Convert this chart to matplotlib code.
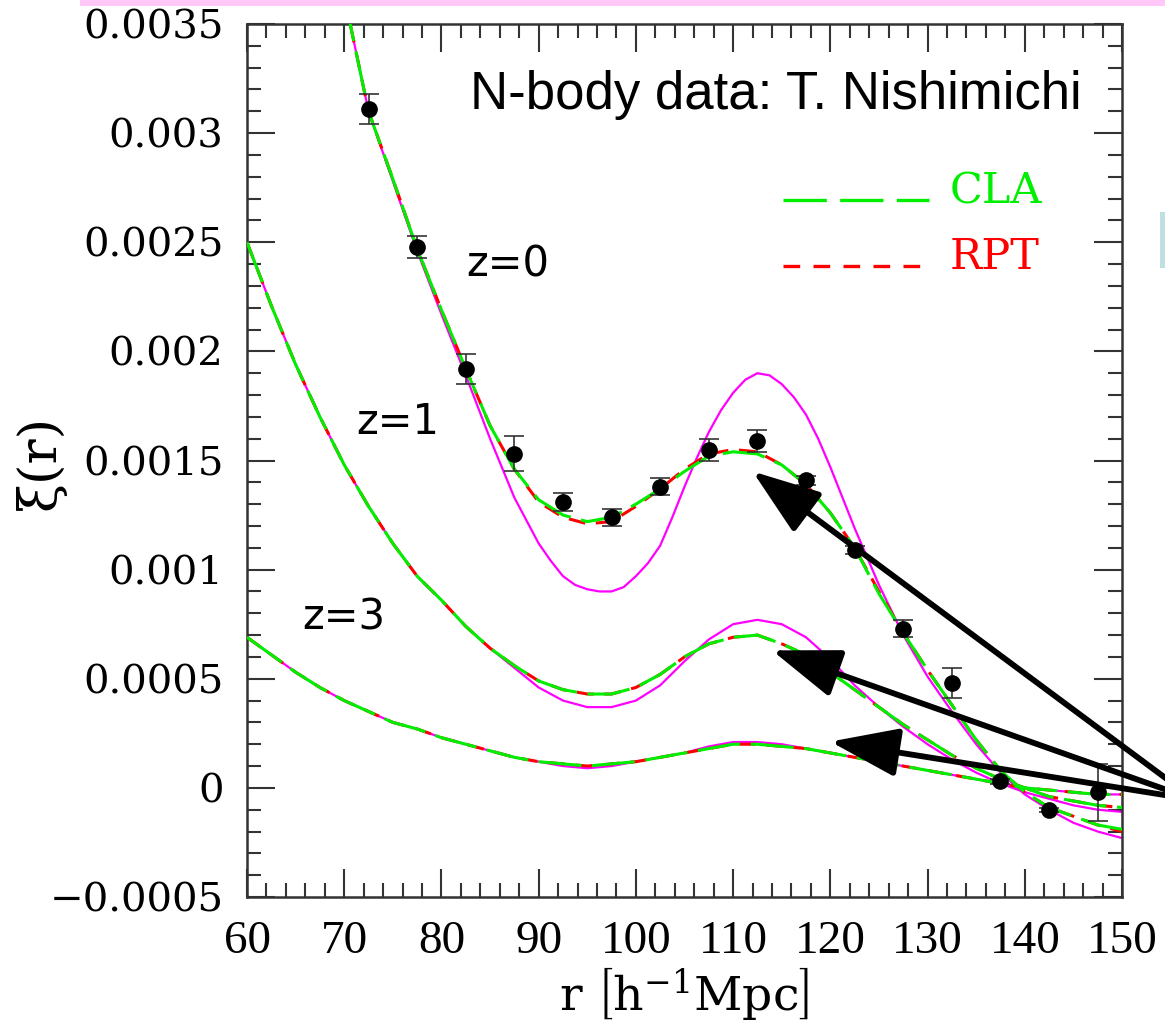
import numpy as np
import matplotlib.pyplot as plt
from matplotlib.lines import Line2D
from matplotlib.patches import Rectangle
from matplotlib.ticker import MultipleLocator, FuncFormatter

# separation r [h^-1 Mpc]
r_z0 = np.arange(70, 150.1, 2.5)
r_all = np.arange(60, 150.1, 2.5)
r_lin_z0 = np.concatenate([np.arange(70, 90, 2.5), np.arange(90, 122.6, 1.25),
                           np.arange(125, 150.1, 2.5)])

# z=0 curves (start above the plot top)
cla_z0 = [0.00363, 0.00310, 0.00279, 0.00247, 0.00219, 0.00192, 0.00166, 0.00146,
          0.00132, 0.00125, 0.00122, 0.00124, 0.00130, 0.00137, 0.00145, 0.00152,
          0.00154, 0.00153, 0.00148, 0.00139, 0.00126, 0.00110, 0.00089, 0.00071,
          0.00054, 0.00038, 0.00022, 0.00008, -0.00002, -0.00009, -0.00013, -0.00017,
          -0.00019]
rpt_z0 = [0.00363, 0.00310, 0.00279, 0.00247, 0.00219, 0.00192, 0.00166, 0.00146,
          0.00131, 0.00124, 0.00121, 0.00122, 0.00129, 0.00137, 0.00146, 0.00153,
          0.00155, 0.00154, 0.00148, 0.00139, 0.00126, 0.00110, 0.00090, 0.00071,
          0.00054, 0.00038, 0.00022, 0.00008, -0.00002, -0.00009, -0.00013, -0.00017,
          -0.00020]
lin_z0 = [0.00363, 0.00310, 0.00278, 0.00246, 0.00217, 0.00189, 0.00160, 0.00133,
          0.00112, 0.00104, 0.00097, 0.00093, 0.00091, 0.00090, 0.00090, 0.00092,
          0.00097, 0.00103, 0.00111, 0.00124, 0.00138, 0.00151, 0.00163, 0.00173,
          0.00181, 0.00187, 0.00190, 0.00189, 0.00185, 0.00179, 0.00171, 0.00160,
          0.00147, 0.00133, 0.00119,
          0.00093, 0.00070, 0.00051, 0.00035, 0.00020, 0.00007, -0.00003, -0.00010,
          -0.00016, -0.00020, -0.00023]

# z=1 curves
cla_z1 = [0.00250, 0.00221, 0.00194, 0.00170, 0.00148, 0.00129, 0.00112, 0.00097,
          0.00086, 0.00074, 0.00064, 0.00056, 0.00049, 0.00045, 0.00043, 0.00043,
          0.00046, 0.00052, 0.00060, 0.00066, 0.00069, 0.00070, 0.00066, 0.00061,
          0.00053, 0.00045, 0.00037, 0.00029, 0.00022, 0.00015, 0.00009, 0.00004,
          0.00000, -0.00004, -0.00006, -0.00008, -0.00009]
rpt_z1 = cla_z1
lin_z1 = [0.00250, 0.00221, 0.00194, 0.00170, 0.00148, 0.00129, 0.00112, 0.00097,
          0.00086, 0.00074, 0.00064, 0.00055, 0.00046, 0.00040, 0.00037, 0.00037,
          0.00040, 0.00047, 0.00058, 0.00068, 0.00075, 0.00077, 0.00075, 0.00069,
          0.00059, 0.00047, 0.00037, 0.00028, 0.00020, 0.00013, 0.00007, 0.00002,
          -0.00002, -0.00005, -0.00008, -0.00010, -0.00011]

# z=3 curves
cla_z3 = [0.00069, 0.00061, 0.00053, 0.00046, 0.00040, 0.00035, 0.00030, 0.00027,
          0.00023, 0.00020, 0.00017, 0.00014, 0.00012, 0.00011, 0.00010, 0.00011,
          0.00012, 0.00014, 0.00016, 0.00018, 0.00020, 0.00020, 0.00019, 0.00018,
          0.00016, 0.00014, 0.00012, 0.00010, 0.00008, 0.00006, 0.00004, 0.00002,
          0.00000, -0.00001, -0.00002, -0.00003, -0.00003]
rpt_z3 = cla_z3
lin_z3 = [0.00069, 0.00061, 0.00053, 0.00046, 0.00040, 0.00035, 0.00030, 0.00027,
          0.00023, 0.00020, 0.00017, 0.00014, 0.00012, 0.00010, 0.00009, 0.00010,
          0.00012, 0.00014, 0.00016, 0.00019, 0.00021, 0.00021, 0.00020, 0.00018,
          0.00016, 0.00014, 0.00012, 0.00010, 0.00008, 0.00006, 0.00004, 0.00002,
          0.00000, -0.00001, -0.00002, -0.00003, -0.00003]

# N-body data (z=0)
r_nb = [72.5, 77.5, 82.5, 87.5, 92.5, 97.5, 102.5, 107.5, 112.5, 117.5,
        122.5, 127.5, 132.5, 137.5, 142.5, 147.5]
xi_nb = [0.00311, 0.00248, 0.00192, 0.00153, 0.00131, 0.00124, 0.00138, 0.00155,
         0.00159, 0.00141, 0.00109, 0.00073, 0.00048, 0.00003, -0.00010, -0.00002]
err_nb = [0.00007, 0.00005, 0.00007, 0.00008, 0.00004, 0.00004, 0.00004, 0.00005,
          0.00005, 0.00002, 0.00002, 0.00004, 0.00007, 0.00001, 0.00001, 0.00013]

# arrow heads (data) and common tail
arrow_heads = [(112.0, 0.00145), (114.0, 0.00063), (120.0, 0.000212)]
arrow_tail = (157.5, -0.000055)

GREEN = '#00ee00'
RED = '#ff0000'
MAG = '#ff00ff'

plt.rcParams['mathtext.fontset'] = 'dejavuserif'

fig = plt.figure(figsize=(11.65, 10.26), dpi=100)
ax = fig.add_axes([247/1165, 129/1026, 875/1165, 873/1026])

for r_lin, r, lin, rpt, cla in [(r_lin_z0, r_z0, lin_z0, rpt_z0, cla_z0),
                                (r_all, r_all, lin_z1, rpt_z1, cla_z1),
                                (r_all, r_all, lin_z3, rpt_z3, cla_z3)]:
    ax.plot(r_lin, lin, color=MAG, lw=1.6, zorder=2)
    ax.plot(r, rpt, color=RED, lw=2.2, dashes=(5.5, 3.5), zorder=3)
    ax.plot(r, cla, color=GREEN, lw=2.2, dashes=(14, 3.5), zorder=4)

ax.errorbar(r_nb, xi_nb, yerr=err_nb, fmt='o', color='black', ms=11,
            ecolor='#333333', elinewidth=1.2, capsize=7, capthick=1.2, zorder=5)

for head in arrow_heads:
    ax.annotate('', xy=head, xytext=arrow_tail, xycoords='data', textcoords='data',
                annotation_clip=False,
                arrowprops=dict(arrowstyle='-|>,head_length=1.4,head_width=0.5',
                                mutation_scale=30, lw=4.2, color='black',
                                shrinkA=0, shrinkB=0), zorder=6)

ax.set_xlim(60, 150)
ax.set_ylim(-0.0005, 0.0035)
ax.xaxis.set_major_locator(MultipleLocator(10))
ax.xaxis.set_minor_locator(MultipleLocator(2))
ax.yaxis.set_major_locator(MultipleLocator(0.0005))
ax.yaxis.set_minor_locator(MultipleLocator(0.0001))
ax.yaxis.set_major_formatter(FuncFormatter(lambda v, p: ('%g' % round(v, 6)).replace('-', '\u2212')))
ax.tick_params(which='both', direction='in', top=True, right=True, color='#333333', width=1.5)
ax.tick_params(which='major', length=20)
ax.tick_params(which='minor', length=10)
ax.tick_params(axis='y', pad=17, labelsize=29)
ax.tick_params(axis='x', pad=17, labelsize=34)
for lab in ax.get_yticklabels():
    lab.set_family('DejaVu Serif')
for lab in ax.get_xticklabels():
    lab.set_family('Liberation Serif')
for s in ax.spines.values():
    s.set_linewidth(1.8)
    s.set_color('#333333')

# legend drawn by hand
ax.add_line(Line2D([0.613, 0.779], [0.798, 0.798], transform=ax.transAxes,
                   color=GREEN, lw=2.4, dashes=(13, 4)))
ax.add_line(Line2D([0.613, 0.773], [0.723, 0.723], transform=ax.transAxes,
                   color=RED, lw=2.4, dashes=(5, 4)))
ax.text(0.803, 0.808, 'CLA', transform=ax.transAxes, color=GREEN, fontsize=31,
        family='DejaVu Serif', va='center', ha='left')
ax.text(0.803, 0.733, 'RPT', transform=ax.transAxes, color=RED, fontsize=31,
        family='DejaVu Serif', va='center', ha='left')

ax.text(0.954, 0.919, 'N-body data: T. Nishimichi', transform=ax.transAxes,
        fontsize=38, family='Liberation Sans', ha='right', va='center')
ax.text(0.25, 0.724, 'z=0', transform=ax.transAxes, fontsize=30,
        family='DejaVu Sans', ha='left', va='center')
ax.text(0.125, 0.544, 'z=1', transform=ax.transAxes, fontsize=30,
        family='DejaVu Sans', ha='left', va='center')
ax.text(0.063, 0.320, 'z=3', transform=ax.transAxes, fontsize=30,
        family='DejaVu Sans', ha='left', va='center')

fig.text(684/1165, 1 - 994/1026, r'r $\left[\mathrm{h}^{-1}\mathrm{Mpc}\right]$', fontsize=34,
         family='DejaVu Serif', ha='center', va='center')
fig.text(40/1165, 1 - 462/1026, '\u03be(r)', fontsize=38, family='DejaVu Serif',
         rotation=90, ha='center', va='center')

# decorations from the slide
fig.patches.append(Rectangle((80/1165, 1 - 6/1026), 1, 6/1026, transform=fig.transFigure,
                             facecolor='#ffc8f8', edgecolor='none'))
fig.patches.append(Rectangle((1160/1165, 1 - 268/1026), 10/1165, 56/1026,
                             transform=fig.transFigure, facecolor='#bfe0e0', edgecolor='none'))

fig.savefig('out.png', dpi=100)
